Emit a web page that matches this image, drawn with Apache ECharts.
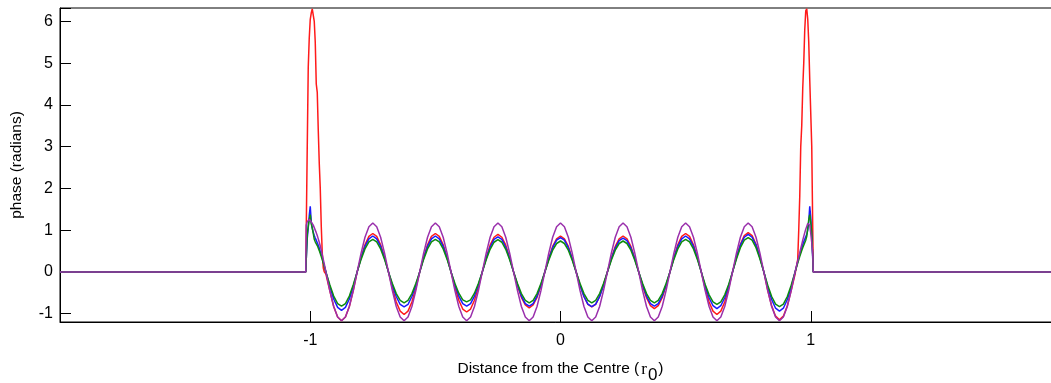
<!DOCTYPE html>
<html>
<head>
<meta charset="utf-8">
<script src="https://cdn.jsdelivr.net/npm/echarts@6/dist/echarts.min.js"></script>
<style>
  html, body { margin: 0; padding: 0; background: #fff; }
  #chart { width: 1051px; height: 383px; }
</style>
</head>
<body>
<div id="chart"></div>
<script>
// Sample positions along the radius (units of r0): dense near the aperture edges,
// 1/64 spacing across the interior.
const xLeft = [-2, -1.018, -1.016, -1.012, -1.008, -1.004, -1.0, -0.996, -0.992, -0.988, -0.984,
  -0.98, -0.976, -0.972, -0.968, -0.964, -0.96, -0.956, -0.952, -0.948, -0.944];
const xCore = [
  -0.9375, -0.9219, -0.9063, -0.8906, -0.875, -0.8594, -0.8438, -0.8281, -0.8125, -0.7969,
  -0.7813, -0.7656, -0.75, -0.7344, -0.7188, -0.7031, -0.6875, -0.6719, -0.6563, -0.6406,
  -0.625, -0.6094, -0.5938, -0.5781, -0.5625, -0.5469, -0.5313, -0.5156, -0.5, -0.4844,
  -0.4688, -0.4531, -0.4375, -0.4219, -0.4063, -0.3906, -0.375, -0.3594, -0.3438, -0.3281,
  -0.3125, -0.2969, -0.2813, -0.2656, -0.25, -0.2344, -0.2188, -0.2031, -0.1875, -0.1719,
  -0.1563, -0.1406, -0.125, -0.1094, -0.0938, -0.0781, -0.0625, -0.0469, -0.0313, -0.0156,
  0,
  0.0156, 0.0313, 0.0469, 0.0625, 0.0781, 0.0938, 0.1094, 0.125, 0.1406, 0.1563,
  0.1719, 0.1875, 0.2031, 0.2188, 0.2344, 0.25, 0.2656, 0.2813, 0.2969, 0.3125,
  0.3281, 0.3438, 0.3594, 0.375, 0.3906, 0.4063, 0.4219, 0.4375, 0.4531, 0.4688,
  0.4844, 0.5, 0.5156, 0.5313, 0.5469, 0.5625, 0.5781, 0.5938, 0.6094, 0.625,
  0.6406, 0.6563, 0.6719, 0.6875, 0.7031, 0.7188, 0.7344, 0.75, 0.7656, 0.7813,
  0.7969, 0.8125, 0.8281, 0.8438, 0.8594, 0.875, 0.8906, 0.9063, 0.9219, 0.9375];
const xRight = [0.944, 0.948, 0.952, 0.956, 0.96, 0.964, 0.968, 0.972, 0.976, 0.98, 0.984,
  0.988, 0.992, 0.996, 1.0, 1.004, 1.008, 1.01, 2];

// Phase profiles (radians) at those positions: left edge, interior, right edge.
const redLeft = [0, 0, 1.0, 3.0, 4.9, 5.6, 6.05, 6.2, 6.3, 6.28, 6.0, 5.5, 4.5, 4.3, 3.4, 2.6, 2.0, 1.1, 0.45, 0.1, 0.0];
const redCore = [-0.05,
  -0.45, -0.83, -1.08, -1.17, -1.08, -0.83, -0.45, 0,
  0.35, 0.65, 0.85, 0.92, 0.85, 0.65, 0.35, 0,
  -0.39, -0.72, -0.94, -1.02, -0.94, -0.72, -0.39, 0,
  0.35, 0.65, 0.85, 0.92, 0.85, 0.65, 0.35, 0,
  -0.37, -0.68, -0.89, -0.96, -0.89, -0.68, -0.37, 0,
  0.34, 0.64, 0.83, 0.90, 0.83, 0.64, 0.34, 0,
  -0.33, -0.61, -0.79, -0.86, -0.79, -0.61, -0.33, 0,
  0.33, 0.61, 0.79, 0.86, 0.79, 0.61, 0.33, 0,
  -0.32, -0.59, -0.78, -0.84, -0.78, -0.59, -0.32, 0,
  0.33, 0.61, 0.79, 0.86, 0.79, 0.61, 0.33, 0,
  -0.34, -0.62, -0.81, -0.88, -0.81, -0.62, -0.34, 0,
  0.35, 0.65, 0.85, 0.92, 0.85, 0.65, 0.35, 0,
  -0.39, -0.72, -0.94, -1.02, -0.94, -0.72, -0.39, 0,
  0.36, 0.66, 0.87, 0.94, 0.87, 0.66, 0.36, 0,
  -0.44, -0.81, -1.06, -1.15, -1.06, -0.81, -0.44, -0.05];
const redRight = [-0.05, 0.3, 1.0, 1.8, 3.0, 3.5, 4.4, 5.0, 5.8, 6.25, 6.3, 6.05, 5.5, 4.6, 4.6, 3.0, 1.0, 0, 0];

const blueLeft = [0, 0, 0.3, 0.8, 1.05, 1.35, 1.57, 1.2, 1.05, 0.95, 0.87, 0.81, 0.76, 0.7, 0.64, 0.57, 0.49, 0.41, 0.33, 0.24, 0.15];
const blueCore = [0,
  -0.35, -0.65, -0.85, -0.92, -0.85, -0.65, -0.35, 0,
  0.33, 0.61, 0.79, 0.86, 0.79, 0.61, 0.33, 0,
  -0.32, -0.59, -0.78, -0.84, -0.78, -0.59, -0.32, 0,
  0.33, 0.61, 0.79, 0.86, 0.79, 0.61, 0.33, 0,
  -0.31, -0.58, -0.76, -0.82, -0.76, -0.58, -0.31, 0,
  0.32, 0.59, 0.78, 0.84, 0.78, 0.59, 0.32, 0,
  -0.31, -0.58, -0.76, -0.82, -0.76, -0.58, -0.31, 0,
  0.31, 0.58, 0.76, 0.82, 0.76, 0.58, 0.31, 0,
  -0.32, -0.59, -0.77, -0.83, -0.77, -0.59, -0.32, 0,
  0.31, 0.57, 0.75, 0.81, 0.75, 0.57, 0.31, 0,
  -0.31, -0.58, -0.76, -0.82, -0.76, -0.58, -0.31, 0,
  0.33, 0.61, 0.79, 0.86, 0.79, 0.61, 0.33, 0,
  -0.34, -0.62, -0.81, -0.88, -0.81, -0.62, -0.34, 0,
  0.34, 0.64, 0.83, 0.90, 0.83, 0.64, 0.34, 0,
  -0.36, -0.66, -0.87, -0.94, -0.87, -0.66, -0.36, 0];
const blueRight = [0.15, 0.24, 0.33, 0.42, 0.5, 0.58, 0.65, 0.72, 0.78, 0.84, 0.9, 1.0, 1.2, 1.57, 1.3, 0.85, 0.3, 0, 0];

const greenLeft = [0, 0, 0.3, 0.9, 1.1, 1.25, 1.37, 1.15, 1.05, 0.92, 0.78, 0.72, 0.68, 0.63, 0.57, 0.51, 0.44, 0.37, 0.29, 0.21, 0.13];
const greenCore = [0,
  -0.31, -0.58, -0.76, -0.82, -0.76, -0.58, -0.31, 0,
  0.30, 0.55, 0.72, 0.78, 0.72, 0.55, 0.30, 0,
  -0.28, -0.52, -0.68, -0.74, -0.68, -0.52, -0.28, 0,
  0.30, 0.55, 0.72, 0.78, 0.72, 0.55, 0.30, 0,
  -0.28, -0.51, -0.67, -0.72, -0.67, -0.51, -0.28, 0,
  0.29, 0.54, 0.71, 0.77, 0.71, 0.54, 0.29, 0,
  -0.28, -0.52, -0.68, -0.74, -0.68, -0.52, -0.28, 0,
  0.28, 0.52, 0.68, 0.74, 0.68, 0.52, 0.28, 0,
  -0.28, -0.52, -0.68, -0.74, -0.68, -0.52, -0.28, 0,
  0.28, 0.52, 0.68, 0.74, 0.68, 0.52, 0.28, 0,
  -0.28, -0.52, -0.68, -0.74, -0.68, -0.52, -0.28, 0,
  0.30, 0.55, 0.72, 0.78, 0.72, 0.55, 0.30, 0,
  -0.30, -0.55, -0.72, -0.78, -0.72, -0.55, -0.30, 0,
  0.31, 0.58, 0.76, 0.82, 0.76, 0.58, 0.31, 0,
  -0.32, -0.59, -0.77, -0.83, -0.77, -0.59, -0.32, 0];
const greenRight = [0.13, 0.21, 0.29, 0.37, 0.44, 0.51, 0.58, 0.64, 0.7, 0.76, 0.85, 1.05, 1.25, 1.37, 1.2, 0.9, 0.35, 0, 0];

const purpleLeft = [0, 0, 1.12, 1.2, 1.24, 1.26, 1.25, 1.2, 1.17, 1.12, 1.06, 1.0, 0.94, 0.87, 0.79, 0.71, 0.62, 0.52, 0.41, 0.3, 0.19];
const purpleCore = [0,
  -0.45, -0.83, -1.08, -1.17, -1.08, -0.83, -0.45, 0,
  0.45, 0.83, 1.08, 1.17, 1.08, 0.83, 0.45, 0,
  -0.45, -0.83, -1.08, -1.17, -1.08, -0.83, -0.45, 0,
  0.45, 0.83, 1.08, 1.17, 1.08, 0.83, 0.45, 0,
  -0.45, -0.83, -1.08, -1.17, -1.08, -0.83, -0.45, 0,
  0.45, 0.83, 1.08, 1.17, 1.08, 0.83, 0.45, 0,
  -0.45, -0.83, -1.08, -1.17, -1.08, -0.83, -0.45, 0,
  0.45, 0.83, 1.08, 1.17, 1.08, 0.83, 0.45, 0,
  -0.45, -0.83, -1.08, -1.17, -1.08, -0.83, -0.45, 0,
  0.45, 0.83, 1.08, 1.17, 1.08, 0.83, 0.45, 0,
  -0.45, -0.83, -1.08, -1.17, -1.08, -0.83, -0.45, 0,
  0.45, 0.83, 1.08, 1.17, 1.08, 0.83, 0.45, 0,
  -0.45, -0.83, -1.08, -1.17, -1.08, -0.83, -0.45, 0,
  0.45, 0.83, 1.08, 1.17, 1.08, 0.83, 0.45, 0,
  -0.45, -0.83, -1.08, -1.17, -1.08, -0.83, -0.45, 0];
const purpleRight = [0.17, 0.26, 0.36, 0.46, 0.56, 0.66, 0.76, 0.85, 0.94, 1.02, 1.09, 1.16, 1.2, 1.12, 0.92, 0.7, 0.42, 0, 0];

const xTickLabels = [-1, 0, 1];
const yTickLabels = [-1, 0, 1, 2, 3, 4, 5, 6];

const xs = xLeft.concat(xCore, xRight);
function pairs(left, core, right) {
  const ys = left.concat(core, right);
  return xs.map((x, i) => [x, ys[i]]);
}

const font = '"Liberation Sans", Arial, sans-serif';
const black = '#000';

function lineSeries(name, color, data) {
  return {
    name, type: 'line', data, showSymbol: false, symbol: 'none',
    lineStyle: { color, width: 1.5 }, clip: true, silent: true
  };
}

const chart = echarts.init(document.getElementById('chart'), null, { renderer: 'canvas' });
chart.setOption({
  animation: false,
  backgroundColor: '#fff',
  grid: {
    left: 60, right: -10, top: 8, bottom: 61,
    outerBoundsMode: 'none', containLabel: false,
    show: true, borderColor: black, borderWidth: 1, backgroundColor: 'transparent'
  },
  xAxis: {
    type: 'value', min: -2, max: 2, interval: 1,
    axisLine: { show: true, onZero: false, lineStyle: { color: black, width: 1 } },
    axisTick: { show: true, inside: true, length: 11, lineStyle: { color: black, width: 1 } },
    splitLine: { show: false },
    axisLabel: {
      color: black, fontFamily: font, fontSize: 16, margin: 11,
      formatter: v => (xTickLabels.indexOf(v) >= 0 ? String(v) : '')
    },
    name: '{n|Distance from the Centre (}{r|r}{s|0}{n|)}',
    nameLocation: 'middle', nameGap: 39,
    nameTextStyle: {
      color: black, fontFamily: font, fontSize: 15.5,
      rich: {
        n: { color: black, fontFamily: font, fontSize: 15.5, verticalAlign: 'top' },
        r: { color: black, fontFamily: '"Liberation Serif", serif', fontSize: 17, verticalAlign: 'top', padding: [0, 0, 0, 2] },
        s: { color: black, fontFamily: font, fontSize: 17, verticalAlign: 'top', padding: [6, 1, 0, 1] }
      }
    }
  },
  yAxis: {
    type: 'value', min: -1.2, max: 6.32, splitNumber: 7,
    axisLine: { show: true, onZero: false, lineStyle: { color: black, width: 1 } },
    axisTick: { show: true, inside: true, length: 11, lineStyle: { color: black, width: 1 } },
    splitLine: { show: false },
    axisLabel: {
      color: black, fontFamily: font, fontSize: 16, margin: 7,
      formatter: v => (yTickLabels.indexOf(v) >= 0 ? String(v) : '')
    },
    name: 'phase (radians)', nameLocation: 'middle', nameGap: 35,
    nameTextStyle: { color: black, fontFamily: font, fontSize: 15.5 }
  },
  series: [
    lineSeries('red', '#ff1a1a', pairs(redLeft, redCore, redRight)),
    lineSeries('blue', '#1a1aff', pairs(blueLeft, blueCore, blueRight)),
    lineSeries('green', '#0e8c0e', pairs(greenLeft, greenCore, greenRight)),
    lineSeries('purple', '#9a30ac', pairs(purpleLeft, purpleCore, purpleRight))
  ]
});
</script>
</body>
</html>
